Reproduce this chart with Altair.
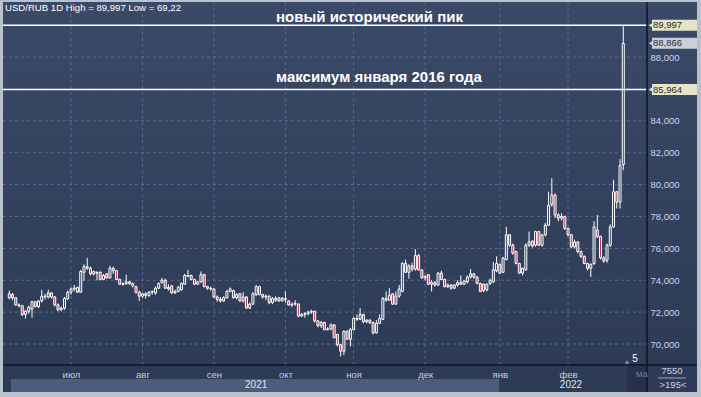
import altair as alt
import pandas as pd

# ---- daily candles (USD/RUB, 4 Jun 2021 .. 24 Feb 2022) ----
opens = [72.9, 73.1, 72.9, 72.45, 72.4, 71.85, 72.05, 72.2, 72.65, 72.35,
         72.7, 73.0, 72.95, 73.2, 72.95, 72.45, 72.15, 72.25, 72.85, 73.25,
         73.45, 73.55, 73.25, 74.5, 74.85, 74.75, 74.4, 74.45, 74.5, 74.05,
         74.4, 74.15, 74.75, 74.6, 74.05, 73.75, 73.8, 73.9, 73.8, 73.6,
         73.25, 73.0, 73.15, 73.05, 73.25, 73.2, 73.5, 73.85, 74.0, 73.55,
         73.65, 73.2, 73.3, 73.4, 73.75, 74.3, 74.3, 74.05, 73.75, 73.9,
         74.35, 73.6, 73.5, 73.45, 72.95, 72.8, 72.7, 72.9, 73.3, 73.35,
         72.9, 73.15, 72.7, 72.95, 72.25, 72.5, 73.1, 73.6, 73.1, 72.95,
         73.0, 72.6, 72.85, 72.9, 72.7, 72.85, 72.7, 72.45, 72.5, 72.5,
         71.75, 71.85, 71.9, 72.0, 72.05, 71.45, 71.15, 71.35, 70.9, 70.95,
         71.2, 70.6, 69.95, 69.55, 70.8, 70.3, 70.9, 71.6, 71.55, 71.85,
         71.4, 71.5, 71.35, 70.7, 71.3, 71.55, 72.85, 72.75, 73.15, 72.5,
         73.0, 73.3, 75.05, 74.5, 74.9, 74.7, 75.55, 74.65, 74.15, 74.35,
         73.75, 73.85, 73.7, 74.45, 74.05, 73.6, 73.7, 73.5, 73.7, 73.85,
         73.75, 73.9, 74.2, 74.4, 74.2, 73.8, 73.75, 73.4, 73.8, 73.9,
         74.6, 75.0, 74.5, 75.3, 76.85, 76.2, 75.8, 75.05, 74.45, 74.65,
         76.2, 76.45, 76.2, 77.05, 76.2, 76.85, 77.45, 78.75, 79.35, 78.1,
         77.9, 78.0, 77.25, 76.85, 76.1, 76.4, 75.8, 75.5, 75.05, 74.75,
         75.05, 77.15, 76.75, 75.4, 75.25, 76.2, 77.35, 79.55, 78.9, 81.25]
highs = [73.35, 73.2, 72.95, 72.55, 72.45, 72.15, 72.4, 72.7, 72.7, 72.75,
         73.4, 73.15, 73.4, 73.25, 73.0, 72.55, 72.35, 72.95, 73.35, 73.55,
         73.7, 73.6, 74.65, 75.0, 75.4, 74.85, 74.6, 74.55, 74.55, 74.4,
         74.45, 74.9, 74.85, 74.65, 74.1, 73.85, 74.35, 73.95, 73.85, 73.65,
         73.35, 73.2, 73.25, 73.3, 73.35, 73.6, 73.85, 74.15, 74.1, 73.75,
         73.7, 73.4, 73.65, 73.85, 74.4, 74.65, 74.35, 74.1, 73.95, 74.55,
         74.4, 73.65, 73.6, 73.5, 73.05, 72.95, 73.0, 73.4, 73.55, 73.4,
         73.2, 73.2, 73.25, 73.0, 72.6, 73.25, 73.7, 73.65, 73.15, 73.1,
         73.05, 72.95, 73.0, 72.95, 72.95, 73.3, 72.75, 72.6, 72.75, 72.55,
         71.95, 72.0, 72.1, 72.15, 72.1, 71.5, 71.45, 71.4, 71.05, 71.3,
         71.25, 70.65, 70.0, 70.85, 70.85, 71.0, 71.7, 71.85, 72.25, 71.9,
         71.55, 71.55, 71.4, 71.5, 71.85, 72.95, 73.3, 73.5, 73.2, 73.3,
         73.7, 75.15, 75.3, 75.0, 75.1, 75.95, 75.65, 74.7, 74.3, 74.4,
         74.0, 73.95, 74.5, 74.6, 74.1, 73.8, 73.75, 73.75, 74.0, 74.3,
         74.0, 74.3, 74.7, 74.45, 74.25, 73.85, 73.8, 73.8, 74.1, 75.15,
         75.5, 75.05, 75.45, 77.35, 76.9, 76.3, 75.85, 75.1, 74.8, 76.3,
         77.05, 76.5, 77.1, 77.1, 76.9, 77.6, 79.55, 80.4, 79.45, 78.2,
         78.2, 78.05, 77.3, 76.9, 76.55, 76.45, 75.85, 75.55, 75.1, 75.05,
         77.7, 78.1, 76.8, 75.5, 76.3, 77.5, 80.3, 79.6, 81.6, 89.997]
lows = [72.8, 72.75, 72.4, 72.3, 71.75, 71.6, 71.9, 71.65, 72.3, 72.25,
        72.6, 72.8, 72.85, 72.85, 72.35, 72.05, 72.05, 72.15, 72.75, 73.1,
        73.3, 73.2, 73.2, 73.95, 74.65, 74.3, 74.3, 74.0, 74.0, 74.0,
        74.1, 74.1, 74.4, 74.0, 73.7, 73.65, 73.7, 73.7, 73.55, 73.15,
        72.7, 72.9, 72.85, 72.95, 73.1, 73.1, 73.45, 73.8, 73.45, 73.35,
        73.15, 73.15, 73.25, 73.35, 73.7, 74.2, 74.0, 73.7, 73.7, 73.85,
        73.55, 73.4, 73.35, 72.9, 72.65, 72.6, 72.65, 72.85, 73.25, 72.85,
        72.8, 72.65, 72.6, 72.2, 72.2, 72.45, 73.0, 73.05, 72.85, 72.75,
        72.5, 72.5, 72.65, 72.65, 72.7, 72.6, 72.4, 72.3, 72.4, 71.7,
        71.7, 71.65, 71.8, 71.9, 71.35, 71.05, 71.0, 70.85, 70.85, 70.85,
        70.35, 69.85, 69.22, 69.3, 70.25, 69.85, 70.85, 71.45, 71.5, 71.3,
        71.3, 71.25, 70.6, 70.65, 71.25, 71.5, 72.65, 72.7, 72.45, 72.45,
        72.9, 73.25, 74.45, 74.1, 74.55, 74.6, 74.6, 74.1, 74.0, 73.7,
        73.3, 73.6, 73.65, 74.0, 73.55, 73.5, 73.4, 73.45, 73.6, 73.7,
        73.7, 73.8, 74.1, 74.1, 73.75, 73.25, 73.25, 73.3, 73.7, 73.85,
        74.5, 74.4, 74.45, 75.25, 76.1, 75.6, 75.0, 74.4, 74.3, 74.6,
        76.1, 76.05, 76.1, 76.15, 76.1, 76.75, 77.4, 78.6, 77.9, 77.7,
        77.75, 77.15, 76.75, 76.0, 76.0, 75.7, 75.4, 75.0, 74.6, 74.2,
        74.95, 76.65, 75.3, 75.1, 75.1, 76.1, 77.3, 78.5, 78.5, 80.9]
closes = [73.15, 72.9, 72.45, 72.4, 71.85, 72.05, 72.3, 72.65, 72.35, 72.7,
          73.0, 72.95, 73.2, 72.95, 72.45, 72.15, 72.25, 72.85, 73.25, 73.45,
          73.5, 73.25, 74.55, 74.85, 74.75, 74.4, 74.55, 74.5, 74.05, 74.3,
          74.15, 74.75, 74.6, 74.05, 73.75, 73.8, 73.9, 73.8, 73.65, 73.25,
          73.0, 73.15, 73.05, 73.25, 73.3, 73.5, 73.8, 74.0, 73.5, 73.45,
          73.2, 73.3, 73.55, 73.8, 74.3, 74.25, 74.05, 73.75, 73.9, 74.35,
          73.6, 73.5, 73.45, 72.95, 72.8, 72.7, 72.9, 73.3, 73.45, 72.9,
          73.1, 72.7, 72.95, 72.25, 72.5, 73.15, 73.6, 73.1, 72.95, 73.0,
          72.6, 72.85, 72.75, 72.7, 72.85, 72.8, 72.45, 72.5, 72.55, 71.75,
          71.85, 71.9, 72.0, 72.05, 71.45, 71.15, 71.35, 70.9, 70.95, 71.2,
          70.4, 69.95, 69.55, 70.8, 70.3, 70.9, 71.6, 71.55, 71.85, 71.4,
          71.5, 71.35, 70.7, 71.3, 71.6, 72.85, 72.75, 73.05, 72.5, 73.0,
          73.45, 75.05, 74.5, 74.9, 74.7, 75.55, 74.65, 74.15, 74.25, 73.75,
          73.85, 73.7, 74.45, 74.05, 73.6, 73.7, 73.5, 73.7, 73.85, 73.75,
          73.95, 74.2, 74.4, 74.2, 73.8, 73.3, 73.35, 73.75, 74.0, 74.65,
          75.05, 74.45, 75.4, 76.85, 76.2, 75.7, 75.05, 74.45, 74.75, 76.2,
          76.4, 76.15, 77.05, 76.2, 76.85, 77.45, 78.7, 79.35, 78.1, 77.9,
          78.0, 77.25, 76.85, 76.1, 76.4, 75.8, 75.5, 75.05, 74.75, 75.0,
          77.35, 76.75, 75.4, 75.2, 76.2, 77.35, 79.55, 78.9, 81.2, 88.866]

month_idx = [19, 41, 63, 85, 106, 128, 151, 172]
month_lbl = ["июл", "авг", "сен", "окт", "ноя", "дек", "янв", "фев"]
year_idx = [76, 172.9]
year_lbl = ["2021", "2022"]
grid_ticks = [70, 72, 74, 76, 78, 80, 82, 84, 86, 88]
label_ticks = [70, 72, 74, 76, 78, 80, 82, 84, 88]   # 86,000 is hidden behind the 85,964 tag
level_vals = [89.997, 85.964]
tag_vals = [89.997, 88.866, 85.964]
tag_text = ["89,997", "88,866", "85,964"]
tag_cols = ["#e4e4c9", "#cbcfda", "#e4e4c9"]

FONT = "Liberation Sans"
W, H = 644, 363
NAVY = "#33425f"

df = pd.DataFrame({"i": range(len(closes)), "o": opens, "h": highs, "l": lows, "c": closes})
df["dir"] = ["up" if c >= o else "down" for o, c in zip(opens, closes)]

xs = alt.Scale(domain=[-0.39, 194.76], nice=False, zero=False)
ys = alt.Scale(domain=[68.683, 91.455], nice=False, zero=False)

expr = "".join(f"datum.value == {v} ? '{t}' : " for v, t in zip(month_idx, month_lbl)) + "''"
x_axis = alt.Axis(values=month_idx, labelExpr=expr, grid=False, ticks=False, tickSize=0,
                  domain=False, labelColor="#c6cfe0", labelFont=FONT, labelFontSize=9.5,
                  labelBaseline="middle", labelPadding=9, title=None, zindex=2)
y_axis = alt.Axis(orient="right", values=label_ticks,
                  labelExpr="replace(format(datum.value, '.3f'), '.', ',')",
                  grid=False, ticks=False, tickSize=0, domain=False, labelColor="#c8d6ee",
                  labelFont=FONT, labelFontSize=9.5, labelPadding=3, title=None, zindex=2)

one = pd.DataFrame({"a": [0]})

bg = alt.Chart(one).mark_rect(
    fill=alt.Gradient(gradient="linear", x1=0, x2=0, y1=0, y2=1,
                      stops=[alt.GradientStop(color="#3a4967", offset=0),
                             alt.GradientStop(color="#2c3a55", offset=1)])
).encode(x=alt.value(0), x2=alt.value(694), y=alt.value(0), y2=alt.value(390))

yearband = alt.Chart(pd.DataFrame({"x0": [0.5], "x1": [150.8]})).mark_rect(color="#4d5c79").encode(
    x=alt.X("x0:Q", scale=xs, axis=x_axis), x2="x1:Q", y=alt.value(377), y2=alt.value(390))

darkbox = alt.Chart(one).mark_rect(color="#27324a").encode(
    x=alt.value(624), x2=alt.value(644), y=alt.value(364), y2=alt.value(390))

hgrid = alt.Chart(pd.DataFrame({"v": grid_ticks})).mark_rule(
    color="#5a6a8a", strokeDash=[3, 3], strokeWidth=1).encode(
    y=alt.Y("v:Q", scale=ys, axis=y_axis), x=alt.value(0), x2=alt.value(W))
vgrid = alt.Chart(pd.DataFrame({"m": month_idx})).mark_rule(
    color="#5a6a8a", strokeDash=[3, 3], strokeWidth=1).encode(
    x=alt.X("m:Q", scale=xs, axis=x_axis), y=alt.value(0), y2=alt.value(H))

wicks = alt.Chart(df).mark_rule(color="white", strokeWidth=1).encode(
    x=alt.X("i:Q", scale=xs, axis=x_axis), y=alt.Y("l:Q", scale=ys, axis=y_axis), y2="h:Q")
bodies = alt.Chart(df).mark_bar(size=2, stroke="white", strokeWidth=1).encode(
    x=alt.X("i:Q", scale=xs, axis=x_axis), y=alt.Y("o:Q", scale=ys, axis=y_axis), y2="c:Q",
    fill=alt.Fill("dir:N", scale=alt.Scale(domain=["up", "down"], range=[NAVY, "#b8324f"]), legend=None))

levels = alt.Chart(pd.DataFrame({"v": level_vals})).mark_rule(color="white", strokeWidth=1.5).encode(
    y=alt.Y("v:Q", scale=ys, axis=y_axis), x=alt.value(0), x2=alt.value(W))

sep_v = alt.Chart(one).mark_rule(color="#0f131b", strokeWidth=1.5).encode(
    x=alt.value(W), y=alt.value(0), y2=alt.value(390))
sep_h = alt.Chart(one).mark_rule(color="#0f131b", strokeWidth=1.5).encode(
    y=alt.value(H), x=alt.value(0), x2=alt.value(694))

def label(text, x, y, size=10, weight="normal", color="white", align="left"):
    return alt.Chart(one).mark_text(text=text, font=FONT, fontSize=size, fontWeight=weight,
                                    color=color, align=align, baseline="middle").encode(
        x=alt.value(x), y=alt.value(y))

header = label("USD/RUB 1D High = 89,997 Low = 69,22", 2, 6, size=9.6)
t1 = label("новый исторический пик", 273, 15, size=15, weight="bold")
t2 = label("максимум января 2016 года", 273, 75, size=15, weight="bold")

years = alt.Chart(pd.DataFrame({"x": year_idx, "t": year_lbl})).mark_text(
    font=FONT, fontSize=10, color="#dfe6f2", baseline="middle").encode(
    x=alt.X("x:Q", scale=xs, axis=x_axis), y=alt.value(383), text="t:N")

tags_df = pd.DataFrame({"v": tag_vals, "t": tag_text, "col": tag_cols})
tags_df["lo"] = tags_df["v"] - 0.34
tags_df["hi"] = tags_df["v"] + 0.34
tag_box = alt.Chart(tags_df).mark_rect().encode(
    y=alt.Y("lo:Q", scale=ys, axis=y_axis), y2="hi:Q", x=alt.value(649), x2=alt.value(694),
    fill=alt.Fill("col:N", scale=None))
tag_tip = alt.Chart(tags_df).mark_point(shape="triangle-left", filled=True, size=45, opacity=1).encode(
    y=alt.Y("v:Q", scale=ys, axis=y_axis), x=alt.value(648.5), fill=alt.Fill("col:N", scale=None))
tag_txt = alt.Chart(tags_df).mark_text(font=FONT, fontSize=9.5, color="#2a2a2a", align="left",
                                       baseline="middle").encode(
    y=alt.Y("v:Q", scale=ys, axis=y_axis), x=alt.value(650), text="t:N")

info1 = label("7550", 669, 369, size=9.5, color="#c8d0e0", align="center")
info2 = label(">195<", 670, 383, size=9.5, color="#c8d0e0", align="center")
info_line = alt.Chart(one).mark_rule(color="#9aa6bb", strokeWidth=1).encode(
    x=alt.value(655), x2=alt.value(683), y=alt.value(376))
mar = label("ма", 633, 372, size=9.5, color="#6f7d96")
five = label("5", 632, 357, size=10, color="white", align="center")
tri = alt.Chart(one).mark_point(shape="triangle-up", filled=True, size=18, color="#8a95a8", opacity=1).encode(
    x=alt.value(624), y=alt.value(360))

chart = alt.layer(
    bg, yearband, darkbox, hgrid, vgrid, wicks, bodies, levels, sep_v, sep_h,
    header, t1, t2, years, tag_box, tag_tip, tag_txt, info1, info2, info_line, mar, five, tri
).properties(
    width=W, height=H,
    autosize=alt.AutoSizeParams(type="none"),
    padding={"left": 3, "top": 2, "right": 54, "bottom": 32},
).configure(background="#b9c1cd").configure_view(stroke=None)

chart.save("out.html", embed_options={"renderer": "svg", "actions": False})
